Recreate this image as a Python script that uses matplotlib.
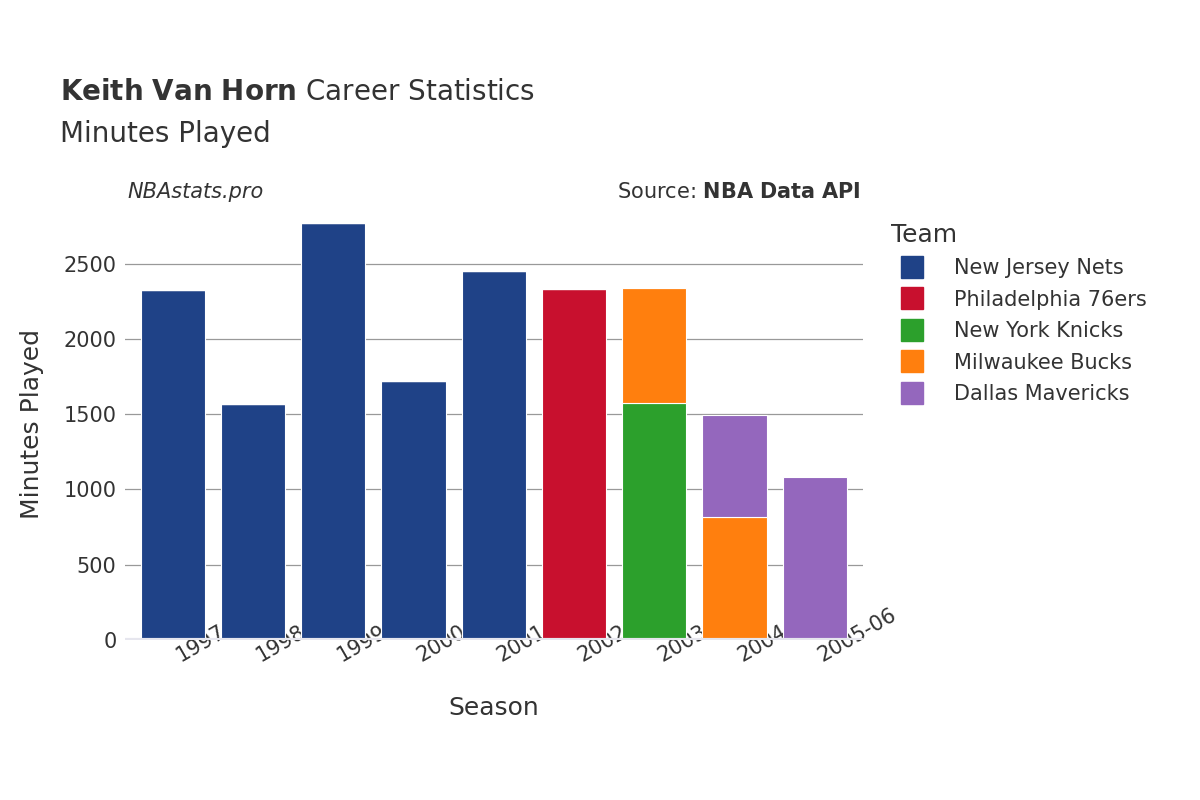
import matplotlib
matplotlib.use("Agg")
import matplotlib.pyplot as plt
from matplotlib.lines import Line2D

seasons = ["1997-98","1998-99","1999-00","2000-01","2001-02","2002-03","2003-04","2004-05","2005-06"]
teams = ["New Jersey Nets","Philadelphia 76ers","New York Knicks","Milwaukee Bucks","Dallas Mavericks"]
colors = ["#1f4287","#c8102e","#2ca02c","#ff7f0e","#9467bd"]
nets = [2325, 1569, 2773, 1722, 2453, 0, 0, 0, 0]
sixers = [0, 0, 0, 0, 0, 2334, 0, 0, 0]
knicks = [0, 0, 0, 0, 0, 0, 1576, 0, 0]
bucks = [0, 0, 0, 0, 0, 0, 764, 818, 0]
mavs = [0, 0, 0, 0, 0, 0, 0, 678, 1084]
series = [nets, sixers, knicks, bucks, mavs]
# stacking order per season: knicks first then bucks in 03-04; bucks then mavs in 04-05
order = [0, 1, 2, 3, 4]

fig = plt.figure(figsize=(12, 8), dpi=100)
ax = fig.add_axes([0.104, 0.2, 0.615, 0.54])
x = list(range(len(seasons)))
bottom = [0]*len(seasons)
for i in order:
    vals = series[i]
    ax.bar(x, vals, bottom=bottom, width=0.8, color=colors[i], edgecolor="white", linewidth=0.8, zorder=3)
    bottom = [b+v for b, v in zip(bottom, vals)]

ax.set_xlim(-0.6, len(seasons)-0.4)
ax.set_ylim(0, 2870)
ax.set_yticks([0, 500, 1000, 1500, 2000, 2500])
ax.yaxis.grid(True, color="#999999", linewidth=0.9, zorder=0)
ax.axhline(0, color="#e6e6ee", linewidth=3, zorder=4)
for s in ax.spines.values():
    s.set_visible(False)
ax.tick_params(axis="both", length=0, labelsize=15, colors="#333333", pad=6)
ax.set_xticks(x)
ax.set_xticklabels(seasons, rotation=30, ha="left", rotation_mode="anchor")
ax.set_xlabel("Season", fontsize=18, color="#333333", labelpad=22)
ax.set_ylabel("Minutes Played", fontsize=18, color="#333333", labelpad=14)

fig.text(0.05, 0.875, r"$\bf{Keith\ Van\ Horn}$ Career Statistics", fontsize=20, color="#333333")
fig.text(0.05, 0.822, "Minutes Played", fontsize=20, color="#333333")
fig.text(0.106, 0.752, "NBAstats.pro", fontsize=15, style="italic", color="#333333")
fig.text(0.717, 0.752, r"Source: $\bf{NBA\ Data\ API}$", fontsize=15, color="#333333", ha="right")

handles = [Line2D([0], [0], marker="s", linestyle="", markersize=16, markerfacecolor=c, markeredgecolor=c) for c in colors]
leg = fig.legend(handles, teams, loc="upper left", bbox_to_anchor=(0.727, 0.745), frameon=False,
                 fontsize=15, title="Team", title_fontsize=18, labelspacing=0.55, handletextpad=1.0)
leg._legend_box.align = "left"
for t in leg.get_texts():
    t.set_color("#333333")
leg.get_title().set_color("#333333")

fig.savefig("out.png")
